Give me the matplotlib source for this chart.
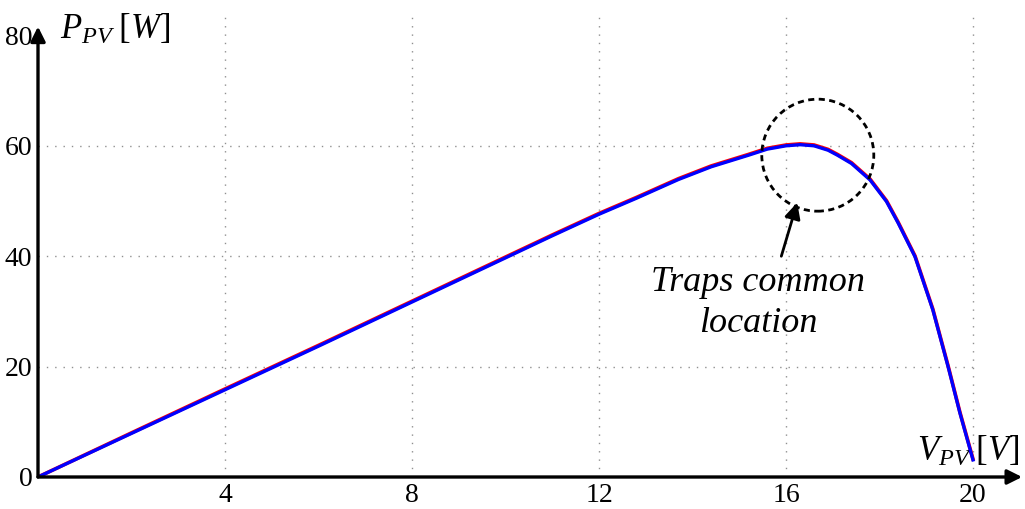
import matplotlib.pyplot as plt
from matplotlib.patches import Ellipse

plt.rcParams['font.family'] = 'Liberation Serif'
plt.rcParams['mathtext.fontset'] = 'custom'
plt.rcParams['mathtext.rm'] = 'Liberation Serif'
plt.rcParams['mathtext.it'] = 'Liberation Serif:italic'

# PV power curve (two overlapping traces)
v_pv = [0, 2, 4, 6, 8, 10, 11, 12, 12.8, 13.7, 14.4, 15.2, 15.6, 16.0, 16.3,
        16.6, 16.9, 17.1, 17.4, 17.8, 18.15, 18.4, 18.76, 19.14, 19.47,
        19.72, 20.0]
p_blue = [0, 7.9, 15.8, 23.7, 31.7, 39.7, 43.7, 47.6, 50.5, 53.9, 56.2, 58.3,
          59.4, 60.0, 60.2, 60.0, 59.2, 58.3, 56.8, 53.8, 49.9, 46.0, 39.9,
          30.3, 19.9, 11.6, 3.1]
p_red = [0, 8.0, 15.95, 23.85, 31.85, 39.85, 43.85, 47.75, 50.65, 54.05, 56.35,
         58.45, 59.55, 60.15, 60.35, 60.15, 59.35, 58.45, 56.95, 53.95, 50.05,
         46.15, 40.05, 30.45, 20.05, 11.75, 3.25]

x_ticks = [4, 8, 12, 16, 20]
y_ticks = [0, 20, 40, 60, 80]

fig = plt.figure(figsize=(10.25, 5.09), dpi=100)
ax = fig.add_axes([38 / 1025, 32 / 509, 984 / 1025, 462 / 509])
ax.set_xlim(0, 984 / 46.75)
ax.set_ylim(0, 462 / 5.52)

# dotted grid
for x in x_ticks:
    ax.plot([x, x], [0, 83.5], ls=(0, (1, 5)), color='#909090', lw=1, zorder=1)
for y in [20, 40, 60]:
    ax.plot([0, 20.05], [y, y], ls=(0, (1, 5)), color='#909090', lw=1, zorder=1)

ax.plot(v_pv, p_red, color='red', lw=2.6, zorder=3, solid_joinstyle='round')
ax.plot(v_pv, p_blue, color='blue', lw=2.4, zorder=4, solid_joinstyle='round')

# axes with arrow heads
for s in ax.spines.values():
    s.set_visible(False)
ax.annotate('', xy=(21.05, 0), xytext=(0, 0),
            arrowprops=dict(arrowstyle='-|>', lw=2.4, color='k',
                            mutation_scale=22, shrinkA=0, shrinkB=0),
            annotation_clip=False, zorder=5)
ax.annotate('', xy=(0, 81.6), xytext=(0, 0),
            arrowprops=dict(arrowstyle='-|>', lw=2.4, color='k',
                            mutation_scale=22, shrinkA=0, shrinkB=0),
            annotation_clip=False, zorder=5)

ax.set_xticks(x_ticks)
ax.set_yticks(y_ticks)
ax.tick_params(length=0, labelsize=20, pad=4)
ax.set_xticklabels([str(t) for t in x_ticks])
ax.set_yticklabels([str(t) for t in y_ticks])

ax.text(0.48, 81.0, r'$P_{PV}\;[W]$', fontsize=25, ha='left', va='center')
ax.text(18.8, 4.6, r'$V_{PV}\;[V]$', fontsize=25, ha='left', va='center')

# trap region marker
ax.add_patch(Ellipse((16.68, 58.3), 2 * 56 / 46.75, 2 * 56 / 5.52, fill=False,
                     ls=(0, (2.2, 1.6)), lw=2, color='k', zorder=6))
ax.annotate('', xy=(16.24, 49.7), xytext=(15.9, 40.0),
            arrowprops=dict(arrowstyle='-|>', lw=2, color='k',
                            mutation_scale=24, shrinkA=0, shrinkB=0), zorder=6)
ax.text(15.4, 38.2, 'Traps common\nlocation', fontsize=26, style='italic',
        ha='center', va='top', linespacing=1.3)

fig.savefig('out.png', dpi=100)
